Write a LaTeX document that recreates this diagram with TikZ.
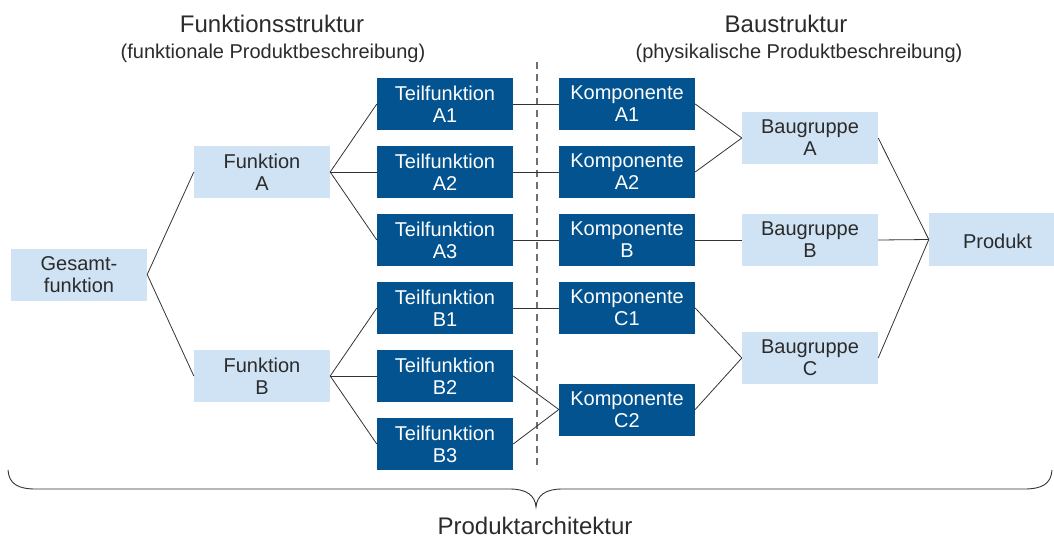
\documentclass[tikz,border=0pt]{standalone}
\usepackage{fontspec}
\setmainfont{Liberation Sans}
\definecolor{darkblue}{HTML}{02538F}
\definecolor{lightblue}{HTML}{CFE3F4}
\definecolor{textgray}{HTML}{2B2B2B}
\definecolor{linegray}{HTML}{333333}
\definecolor{dashgray}{HTML}{707070}
\begin{document}
\begin{tikzpicture}[x=1pt,y=-1pt,
  box/.style={minimum width=136pt,minimum height=52pt,inner sep=0pt,align=center,
    font=\fontsize{20}{22}\selectfont,
    execute at begin node={\rule{0pt}{19pt}}},
  lightbox/.style={box,fill=lightblue,text=textgray},
  darkbox/.style={box,fill=darkblue,text=white},
  link/.style={draw=linegray,line width=0.8pt},
  title/.style={anchor=base,text=textgray,font=\fontsize{24}{28}\selectfont},
  subtitle/.style={anchor=base,text=textgray,font=\fontsize{20}{24}\selectfont}]
\useasboundingbox (0,0) rectangle (1054,539);

% headings
\node[title] (hF) at (272,32) {Funktionsstruktur};
\node[subtitle] (sF) at (273,58) {(funktionale Produktbeschreibung)};
\node[title] (hB) at (786,32) {Baustruktur};
\node[subtitle] (sB) at (799,58) {(physikalische Produktbeschreibung)};

% separator between function and physical structure
\coordinate (sepTop) at (537,62);
\coordinate (sepBot) at (537,470);
\draw[dashgray,line width=1.6pt,dash pattern=on 7pt off 5pt] (sepTop) -- (sepBot);

% function structure
\node[lightbox] (G) at (79,274.5) {Gesamt-\\funktion};
\node[lightbox] (FA) at (262,172) {Funktion\\A};
\node[lightbox] (FB) at (262,376) {Funktion\\B};
\node[darkbox] (TA1) at (445,104) {Teilfunktion\\A1};
\node[darkbox] (TA2) at (445,172) {Teilfunktion\\A2};
\node[darkbox] (TA3) at (445,240) {Teilfunktion\\A3};
\node[darkbox] (TB1) at (445,308) {Teilfunktion\\B1};
\node[darkbox] (TB2) at (445,376) {Teilfunktion\\B2};
\node[darkbox] (TB3) at (445,444) {Teilfunktion\\B3};

% physical structure
\node[darkbox] (KA1) at (627,104) {Komponente\\A1};
\node[darkbox] (KA2) at (627,172) {Komponente\\A2};
\node[darkbox] (KB) at (627,240) {Komponente\\B};
\node[darkbox] (KC1) at (627,308) {Komponente\\C1};
\node[darkbox] (KC2) at (627,409.5) {Komponente\\C2};
\node[lightbox] (BA) at (810,138) {Baugruppe\\A};
\node[lightbox] (BB) at (810,240) {Baugruppe\\B};
\node[lightbox] (BC) at (810,358) {Baugruppe\\C};
\node[lightbox,minimum width=125pt,minimum height=53pt,
  execute at begin node={}] (P) at (991.5,239.5) {\hspace*{12pt}Produkt};

% connectors
\draw[link] (G.east) -- (FA.west);
\draw[link] (G.east) -- (FB.west);
\foreach \t in {TA1,TA2,TA3} \draw[link] (FA.east) -- (\t.west);
\foreach \t in {TB1,TB2,TB3} \draw[link] (FB.east) -- (\t.west);
\draw[link] (TA1.east) -- (KA1.west);
\draw[link] (TA2.east) -- (KA2.west);
\draw[link] (TA3.east) -- (KB.west);
\draw[link] (TB1.east) -- (KC1.west);
\draw[link] (TB2.east) -- (KC2.west);
\draw[link] (TB3.east) -- (KC2.west);
\draw[link] (KA1.east) -- (BA.west);
\draw[link] (KA2.east) -- (BA.west);
\draw[link] (KB.east) -- (BB.west);
\draw[link] (KC1.east) -- (BC.west);
\draw[link] (KC2.east) -- (BC.west);
\draw[link] (BA.east) -- (P.west);
\draw[link] (BB.east) -- (P.west);
\draw[link] (BC.east) -- (P.west);

% brace spanning the whole architecture
\coordinate (bL) at (8,470);
\coordinate (bTip) at (536,507);
\coordinate (bR) at (1052,470);
\draw[linegray,line width=0.9pt]
  (bL) .. controls (9,484) and (18,489) .. (36,489)
  -- (510,489) .. controls (526,489) and (535,495) .. (bTip)
  .. controls (537,495) and (546,489) .. (562,489)
  -- (1024,489) .. controls (1042,489) and (1051,484) .. (bR);
\node[title] (arch) at (535,534) {Produktarchitektur};
\end{tikzpicture}
\end{document}
